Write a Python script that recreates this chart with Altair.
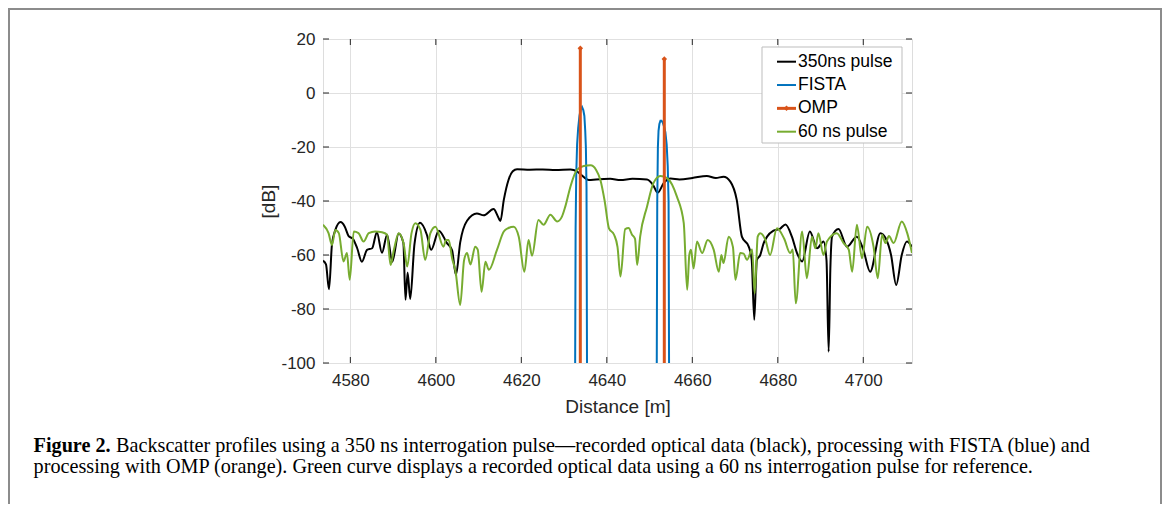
import altair as alt
import pandas as pd

# ---------------- data ----------------
black_x = [4573.6, 4574.3, 4575.0, 4575.7, 4576.5, 4577.7, 4578.7, 4579.6, 4580.6, 4581.6,
           4582.7, 4583.9, 4585.1, 4586.2, 4587.4, 4588.6, 4589.8, 4591.3, 4592.4, 4592.9,
           4593.4, 4594.0, 4595.0, 4596.3, 4597.9, 4598.9, 4600.7, 4602.6, 4603.8, 4604.7,
           4605.7, 4607.3, 4609.6, 4611.2, 4613.5, 4614.6, 4615.1, 4615.9, 4617.0, 4618.0,
           4619.0, 4622.0, 4625.0, 4628.0, 4631.5, 4633.0, 4633.8, 4635.8, 4637.5, 4640.8,
           4643.2, 4646.0, 4649.4, 4650.8, 4651.9, 4653.3, 4654.9, 4657.0, 4660.0, 4663.4,
           4665.5, 4667.3, 4668.9, 4670.4, 4671.6, 4673.2, 4673.9, 4674.5, 4675.1, 4675.9,
           4676.7, 4677.5, 4679.0, 4680.5, 4681.8, 4683.3, 4684.5, 4685.7, 4687.5, 4689.2,
           4690.7, 4691.4, 4691.9, 4692.3, 4692.7, 4694.2, 4696.2, 4698.5, 4700.0, 4701.6,
           4704.0, 4705.3, 4706.5, 4707.7, 4709.0, 4710.2, 4711.4]
black_y = [-62.1, -63.5, -72.7, -56.0, -50.7, -47.8, -49.5, -53.0, -54.0, -57.5,
           -62.5, -58.1, -57.5, -51.6, -59.2, -52.5, -62.5, -52.0, -55.5, -76.6,
           -66.5, -76.3, -56.0, -48.1, -52.5, -58.1, -51.0, -55.6, -58.3, -67.4,
           -55.3, -47.3, -44.6, -45.3, -43.0, -46.0, -47.4, -39.6, -32.2, -29.0,
           -28.2, -28.4, -28.3, -28.5, -28.3, -29.0, -30.0, -32.2, -32.0, -31.8,
           -32.2, -31.8, -32.0, -34.0, -36.9, -33.4, -31.7, -32.0, -31.5, -30.7,
           -31.5, -31.0, -32.8, -39.6, -53.2, -56.9, -61.8, -84.0, -61.8, -60.0,
           -55.6, -53.2, -51.0, -50.3, -48.7, -53.2, -59.3, -62.4, -51.3, -57.5,
           -55.0, -62.0, -95.8, -65.0, -53.2, -50.4, -56.9, -53.2, -58.0, -66.2,
           -51.9, -54.0, -60.0, -71.1, -60.0, -55.0, -57.0]

green_x = [4573.6, 4574.9, 4575.7, 4576.5, 4577.3, 4578.4, 4579.2, 4579.85, 4580.8, 4581.9,
           4583.1, 4584.3, 4585.8, 4587.4, 4588.6, 4589.4, 4590.2, 4591.3, 4592.5, 4593.3,
           4594.3, 4595.2, 4596.4, 4597.5, 4598.7, 4599.9, 4601.8, 4602.4, 4603.0, 4603.8,
           4604.6, 4605.7, 4606.6, 4607.3, 4608.1, 4609.2, 4609.8, 4610.7, 4611.6, 4612.4,
           4614.3, 4615.9, 4617.0, 4618.2, 4619.4, 4620.7, 4621.7, 4622.5, 4624.0, 4625.2,
           4626.8, 4628.4, 4629.5, 4630.3, 4631.5, 4633.0, 4634.6, 4636.2, 4637.5, 4638.5,
           4639.5, 4640.5, 4641.7, 4642.5, 4643.2, 4644.3, 4645.1, 4645.9, 4646.6, 4647.1,
           4647.8, 4649.4, 4650.9, 4652.5, 4654.1, 4656.4, 4658.0, 4658.8, 4659.3, 4659.7,
           4660.3, 4661.1, 4662.3, 4663.6, 4665.0, 4666.2, 4666.8, 4667.3, 4668.5, 4669.5,
           4670.1, 4671.2, 4672.0, 4672.8, 4674.0, 4674.6, 4675.3, 4675.9, 4677.1, 4678.2,
           4679.8, 4681.5, 4682.9, 4683.5, 4684.2, 4685.7, 4686.8, 4688.0, 4688.8, 4689.5,
           4690.7, 4691.5, 4693.8, 4695.4, 4696.6, 4697.4, 4698.5, 4699.7, 4700.9, 4702.4,
           4703.4, 4704.4, 4705.2, 4706.0, 4707.1, 4709.0, 4710.3, 4711.4]
green_y = [-48.8, -51.9, -56.3, -50.7, -51.9, -62.4, -59.3, -69.2, -51.3, -51.9,
           -55.0, -51.9, -51.3, -51.6, -52.5, -63.7, -58.0, -51.9, -56.0, -64.3,
           -52.0, -48.2, -50.7, -61.8, -52.0, -49.5, -56.9, -54.4, -54.4, -61.2,
           -66.0, -78.5, -62.0, -59.3, -63.5, -56.9, -58.0, -73.6, -62.5, -65.5,
           -58.1, -51.3, -50.0, -49.5, -53.2, -66.2, -54.4, -60.3, -47.0, -48.8,
           -45.1, -47.6, -45.8, -42.0, -34.6, -28.5, -27.0, -26.8, -28.5, -32.2,
           -40.0, -50.1, -52.5, -57.0, -68.0, -50.4, -50.0, -52.5, -54.0, -63.7,
           -53.2, -42.1, -33.4, -30.7, -31.5, -38.4, -48.2, -72.9, -60.0, -58.1,
           -65.0, -55.0, -59.3, -54.4, -58.0, -66.2, -60.0, -63.0, -53.2, -57.0,
           -69.2, -59.3, -59.5, -61.8, -58.0, -74.2, -53.2, -51.9, -54.4, -60.0,
           -50.1, -54.0, -59.3, -58.0, -77.9, -51.3, -68.6, -53.2, -57.5, -51.9,
           -60.0, -55.0, -51.9, -55.6, -58.0, -66.2, -48.8, -61.2, -49.5, -56.9,
           -68.6, -52.5, -55.6, -53.0, -55.6, -47.6, -52.0, -59.3]

fista_x = [4632.55, 4632.7, 4632.85, 4633.05, 4633.3, 4633.6, 4633.9, 4634.2, 4634.5, 4634.75,
           4634.95, 4635.1, 4635.25, 4635.4,
           4651.65, 4651.8, 4651.95, 4652.1, 4652.3, 4652.55, 4652.8, 4653.1, 4653.4, 4653.7,
           4654.0, 4654.25, 4654.45, 4654.6]
fista_y = [-120, -50, -30, -19, -13, -8.5, -6, -5.2, -6.3, -8.5,
           -14, -20, -35, -120,
           -120, -40, -20, -14, -11.5, -10.3, -10.3, -11, -12.5, -14.5,
           -19, -27, -40, -120]

omp_x = [4633.8, 4653.45]
omp_y = [16.6, 12.6]

x_ticks = [4580, 4600, 4620, 4640, 4660, 4680, 4700]
y_ticks = [-100, -80, -60, -40, -20, 0, 20]

series_names = ["350ns pulse", "FISTA", "OMP", "60 ns pulse"]
series_colors = ["#000000", "#0072BD", "#D95319", "#77AC30"]

x_title = "Distance [m]"
y_title = "[dB]"
caption_bold = "Figure 2."
caption_line1 = ("Backscatter profiles using a 350 ns interrogation pulse\u2014recorded optical data "
                 "(black), processing with FISTA (blue) and")
caption_line2 = ("processing with OMP (orange). Green curve displays a recorded optical data "
                 "using a 60 ns interrogation pulse for reference.")

# ---------------- layout ----------------
W, H = 589, 324
SANS = "Liberation Sans"
SERIF = "Liberation Serif"
AXC = "#262626"
GRID = "#e0e0e0"
CAP = 20.2

xs = alt.Scale(domain=[4573.6, 4711.4], nice=False, zero=False)
ys = alt.Scale(domain=[-100, 20], nice=False, zero=False)

black_df = pd.DataFrame({"x": black_x, "y": black_y})
green_df = pd.DataFrame({"x": green_x, "y": green_y})
fista_df = pd.DataFrame({"x": fista_x, "y": fista_y})
omp_df = pd.DataFrame({"x": omp_x, "y": omp_y, "base": [-100] * len(omp_x)})
xt_df = pd.DataFrame({"t": x_ticks})
yt_df = pd.DataFrame({"t": y_ticks})
one = pd.DataFrame({"d": [0]})

x_axis = alt.Axis(values=x_ticks, labelExpr="'' + datum.value", grid=True, gridColor=GRID,
                  ticks=False, tickSize=0, domain=False, labelFont=SANS, labelFontSize=17,
                  labelColor=AXC, labelPadding=9, title=x_title, titleFont=SANS,
                  titleFontSize=19, titleFontWeight="normal", titleColor=AXC,
                  titleBaseline="alphabetic", titleY=49)
y_axis = alt.Axis(values=y_ticks, labelExpr="'' + datum.value", grid=True, gridColor=GRID,
                  ticks=False, tickSize=0, domain=False, labelFont=SANS, labelFontSize=17,
                  labelColor=AXC, labelPadding=8, title=y_title, titleFont=SANS,
                  titleFontSize=19, titleFontWeight="normal", titleColor=AXC,
                  titleAngle=270, titleBaseline="middle", titleAlign="center",
                  titleX=-55, titleY=H / 2)

black = alt.Chart(black_df).mark_line(color=series_colors[0], strokeWidth=2, clip=True,
                                      interpolate="monotone").encode(
    x=alt.X("x:Q", scale=xs, axis=x_axis),
    y=alt.Y("y:Q", scale=ys, axis=y_axis))

fista = alt.Chart(fista_df).mark_line(color=series_colors[1], strokeWidth=2, clip=True).encode(
    x=alt.X("x:Q", scale=xs), y=alt.Y("y:Q", scale=ys))

green = alt.Chart(green_df).mark_line(color=series_colors[3], strokeWidth=2, clip=True,
                                      interpolate="monotone").encode(
    x=alt.X("x:Q", scale=xs), y=alt.Y("y:Q", scale=ys))

omp_stem = alt.Chart(omp_df).mark_rule(color=series_colors[2], strokeWidth=3, clip=True).encode(
    x=alt.X("x:Q", scale=xs), y=alt.Y("y:Q", scale=ys), y2="base:Q")
omp_pt = alt.Chart(omp_df).mark_point(color=series_colors[2], filled=True, opacity=1,
                                      shape="diamond", size=30).encode(
    x=alt.X("x:Q", scale=xs), y=alt.Y("y:Q", scale=ys))

# inward ticks on all four sides
TL = 6
tick_layers = [
    alt.Chart(xt_df).mark_rule(color=AXC, strokeWidth=1).encode(
        x=alt.X("t:Q", scale=xs), y=alt.value(H), y2=alt.value(H - TL)),
    alt.Chart(xt_df).mark_rule(color=AXC, strokeWidth=1).encode(
        x=alt.X("t:Q", scale=xs), y=alt.value(0), y2=alt.value(TL)),
    alt.Chart(yt_df).mark_rule(color=AXC, strokeWidth=1).encode(
        y=alt.Y("t:Q", scale=ys), x=alt.value(0), x2=alt.value(TL)),
    alt.Chart(yt_df).mark_rule(color=AXC, strokeWidth=1).encode(
        y=alt.Y("t:Q", scale=ys), x=alt.value(W), x2=alt.value(W - TL)),
]

# legend (manual, MATLAB style)
LX0, LX1, LY0, LY1 = 439, 579, 8, 104
legend_layers = [alt.Chart(one).mark_rect(fill="white", stroke="#bdbdbd", strokeWidth=1).encode(
    x=alt.value(LX0), x2=alt.value(LX1), y=alt.value(LY0), y2=alt.value(LY1))]
row0, rstep = 22.7, 23.33
for i, (nm, col) in enumerate(zip(series_names, series_colors)):
    yy = row0 + i * rstep
    legend_layers.append(alt.Chart(one).mark_rule(color=col, strokeWidth=3 if nm == "OMP" else 2).encode(
        x=alt.value(454), x2=alt.value(473), y=alt.value(yy)))
    if nm == "OMP":
        legend_layers.append(alt.Chart(one).mark_point(color=col, filled=True, opacity=1,
                                                       shape="diamond", size=30).encode(
            x=alt.value(463.5), y=alt.value(yy)))
    legend_layers.append(alt.Chart(pd.DataFrame({"lab": [nm]})).mark_text(
        align="left", baseline="middle", font=SANS, fontSize=17.5, color="black").encode(
        x=alt.value(475), y=alt.value(yy), text="lab:N"))

# caption and frame
cap_x = -289.4
cap_layers = [
    alt.Chart(pd.DataFrame({"s": [caption_bold]})).mark_text(
        align="left", baseline="alphabetic", font=SERIF, fontSize=CAP, fontWeight="bold",
        color="black").encode(x=alt.value(cap_x), y=alt.value(413), text="s:N"),
    alt.Chart(pd.DataFrame({"s": [caption_line1]})).mark_text(
        align="left", baseline="alphabetic", font=SERIF, fontSize=CAP, color="black").encode(
        x=alt.value(cap_x + 4.083 * CAP), y=alt.value(413), text="s:N"),
    alt.Chart(pd.DataFrame({"s": [caption_line2]})).mark_text(
        align="left", baseline="alphabetic", font=SERIF, fontSize=CAP, color="black").encode(
        x=alt.value(cap_x), y=alt.value(434), text="s:N"),
]
frame = alt.Chart(one).mark_rect(fill="white", fillOpacity=0, stroke="#8c8c8c", strokeWidth=2).encode(
    x=alt.value(-314), x2=alt.value(838), y=alt.value(-30), y2=alt.value(475))

chart = alt.layer(
    black, fista, green, omp_stem, omp_pt, *tick_layers, *legend_layers, *cap_layers, frame
).properties(
    width=W, height=H,
    autosize=alt.AutoSizeParams(type="none"),
    padding={"left": 315, "top": 31, "right": 250, "bottom": 141},
).configure_view(stroke=AXC, strokeWidth=1.2).configure(background="white")

chart.save("out.html", embed_options={"renderer": "svg", "actions": False})
